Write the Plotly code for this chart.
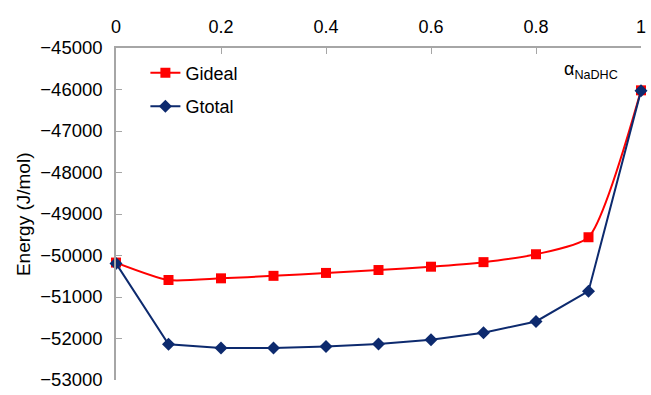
import plotly.graph_objects as go

# Mole fraction of NaDHC
alpha = [0, 0.1, 0.2, 0.3, 0.4, 0.5, 0.6, 0.7, 0.8, 0.9, 1.0]

# Gibbs energies (J/mol)
g_ideal = [-50170, -50590, -50550, -50490, -50420, -50350, -50270, -50160, -49970, -49560, -46020]
g_total = [-50190, -52140, -52230, -52230, -52190, -52130, -52030, -51860, -51590, -50860, -46030]

y_ticks = [-53000, -52000, -51000, -50000, -49000, -48000, -47000, -46000, -45000]
x_ticks = [0, 0.2, 0.4, 0.6, 0.8, 1]

font_family = "Liberation Sans, Arial, sans-serif"
axis_grey = "#a6a6a6"

fig = go.Figure()
fig.add_trace(go.Scatter(
    x=alpha, y=g_ideal, name="Gideal", mode="lines+markers",
    legendgroup="ideal",
    line=dict(color="#ff0000", width=2, shape="spline", smoothing=0.6),
    marker=dict(symbol="square", size=10, color="#ff0000"),
    cliponaxis=False,
))
fig.add_trace(go.Scatter(
    x=alpha, y=g_total, name="Gtotal", mode="lines+markers",
    legendgroup="total",
    line=dict(color="#0d2a6e", width=2),
    marker=dict(symbol="diamond", size=10, color="#0d2a6e"),
    cliponaxis=False,
))

fig.add_annotation(
    x=0.905, y=-45530, xref="x", yref="y",
    text="α<sub>NaDHC</sub>", showarrow=False,
    font=dict(family=font_family, size=18, color="#000000"),
)

# Vertical axis title
fig.add_annotation(
    x=-0.177, y=0.5, xref="paper", yref="paper",
    text="Energy (J/mol)", textangle=-90, showarrow=False,
    xanchor="center", yanchor="middle",
    font=dict(family=font_family, size=19, color="#000000"),
)

fig.update_layout(
    width=651, height=395,
    margin=dict(l=116, r=5, t=48, b=10),
    paper_bgcolor="white", plot_bgcolor="white",
    font=dict(family=font_family, size=18, color="#000000"),
    showlegend=True,
    legend=dict(
        x=0.056, y=0.98, xanchor="left", yanchor="top",
        bgcolor="rgba(0,0,0,0)", font=dict(size=18),
        itemwidth=30, tracegroupgap=7,
    ),
    xaxis=dict(
        side="top", range=[0, 1], tickvals=x_ticks,
        ticktext=["0", "0.2", "0.4", "0.6", "0.8", "1"],
        showgrid=False, zeroline=False,
        showline=True, linecolor=axis_grey, linewidth=1.5,
        ticks="inside", ticklen=6, tickcolor=axis_grey,
        tickfont=dict(size=18), ticklabelstandoff=6,
        ticklabeloverflow="allow",
    ),
    yaxis=dict(
        range=[-53000, -45000], tickvals=y_ticks,
        tickformat="d",
        showgrid=False, zeroline=False,
        showline=True, linecolor=axis_grey, linewidth=1.5,
        ticks="inside", ticklen=6, tickcolor=axis_grey,
        tickfont=dict(size=18.5), ticklabelstandoff=8,
        ticklabeloverflow="allow",
    ),
)

fig.write_html("out.html")
